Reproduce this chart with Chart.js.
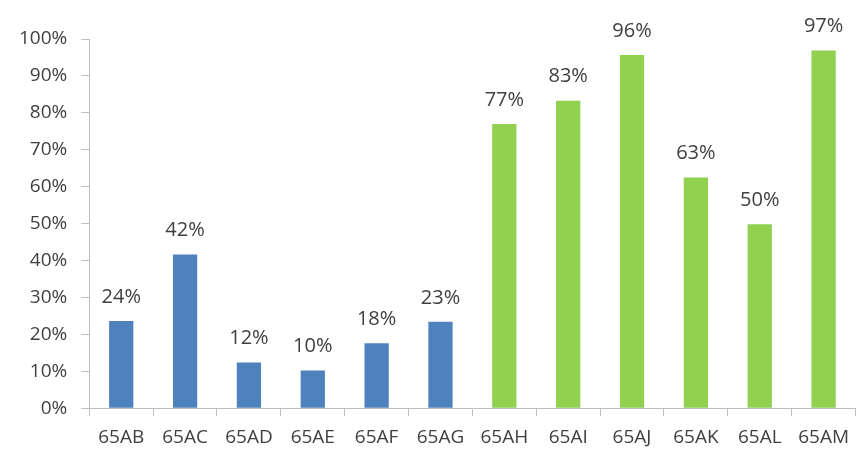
<!DOCTYPE html>
<html>
<head>
<meta charset="utf-8">
<script src="https://cdn.jsdelivr.net/npm/chart.js@4"></script>
<style>
  html, body { margin: 0; padding: 0; background: #fff; overflow: hidden; }
  #wrap { width: 859px; height: 459px; }
</style>
</head>
<body>
<div id="wrap"><canvas id="barChart"></canvas></div>
<script>
var categories = ['65AB', '65AC', '65AD', '65AE', '65AF', '65AG', '65AH', '65AI', '65AJ', '65AK', '65AL', '65AM'];
var values = [23.6, 41.6, 12.4, 10.2, 17.6, 23.4, 77, 83.3, 95.7, 62.5, 49.8, 96.9];
var barColors = ['#4F81BD', '#4F81BD', '#4F81BD', '#4F81BD', '#4F81BD', '#4F81BD',
                 '#92D050', '#92D050', '#92D050', '#92D050', '#92D050', '#92D050'];
var yTicks = [0, 10, 20, 30, 40, 50, 60, 70, 80, 90, 100];

var fontFamily = '"Open Sans", "Noto Sans", sans-serif';

// labels above each bar
var valueLabels = {
    id: 'valueLabels',
    afterDatasetsDraw: function (chart) {
        var ctx = chart.ctx;
        var meta = chart.getDatasetMeta(0);
        ctx.save();
        ctx.font = '20px ' + fontFamily;
        ctx.fillStyle = '#404040';
        ctx.textAlign = 'center';
        ctx.textBaseline = 'bottom';
        meta.data.forEach(function (bar, i) {
            ctx.fillText(Math.round(values[i]) + '%', bar.x, bar.y - 14);
        });
        ctx.restore();
    }
};

var ctx = document.getElementById('barChart').getContext('2d');
var myChart = new Chart(ctx, {
    type: 'bar',
    data: {
        labels: categories,
        datasets: [{
            data: values,
            backgroundColor: barColors,
            borderWidth: 0,
            categoryPercentage: 1,
            barPercentage: 0.38
        }]
    },
    options: {
        responsive: true,
        maintainAspectRatio: false,
        animation: false,
        layout: { padding: { top: 39, right: 0, left: 5, bottom: 0 } },
        plugins: {
            legend: { display: false },
            tooltip: { enabled: false }
        },
        scales: {
            x: {
                grid: {
                    drawOnChartArea: false,
                    drawTicks: true,
                    tickLength: 8,
                    offset: true,
                    color: '#bfbfbf'
                },
                border: { color: '#bfbfbf', width: 1 },
                ticks: {
                    color: '#404040',
                    font: { family: fontFamily, size: 19 },
                    padding: 10,
                    maxRotation: 0,
                    autoSkip: false
                }
            },
            y: {
                min: 0,
                max: 100,
                afterBuildTicks: function (axis) {
                    axis.ticks = yTicks.map(function (v) { return { value: v }; });
                },
                grid: {
                    drawOnChartArea: false,
                    drawTicks: true,
                    tickLength: 8,
                    color: '#bfbfbf'
                },
                border: { color: '#bfbfbf', width: 1 },
                ticks: {
                    color: '#404040',
                    font: { family: fontFamily, size: 19 },
                    padding: 14,
                    callback: function (v) { return v + '%'; }
                }
            }
        }
    },
    plugins: [valueLabels]
});
</script>
</body>
</html>
